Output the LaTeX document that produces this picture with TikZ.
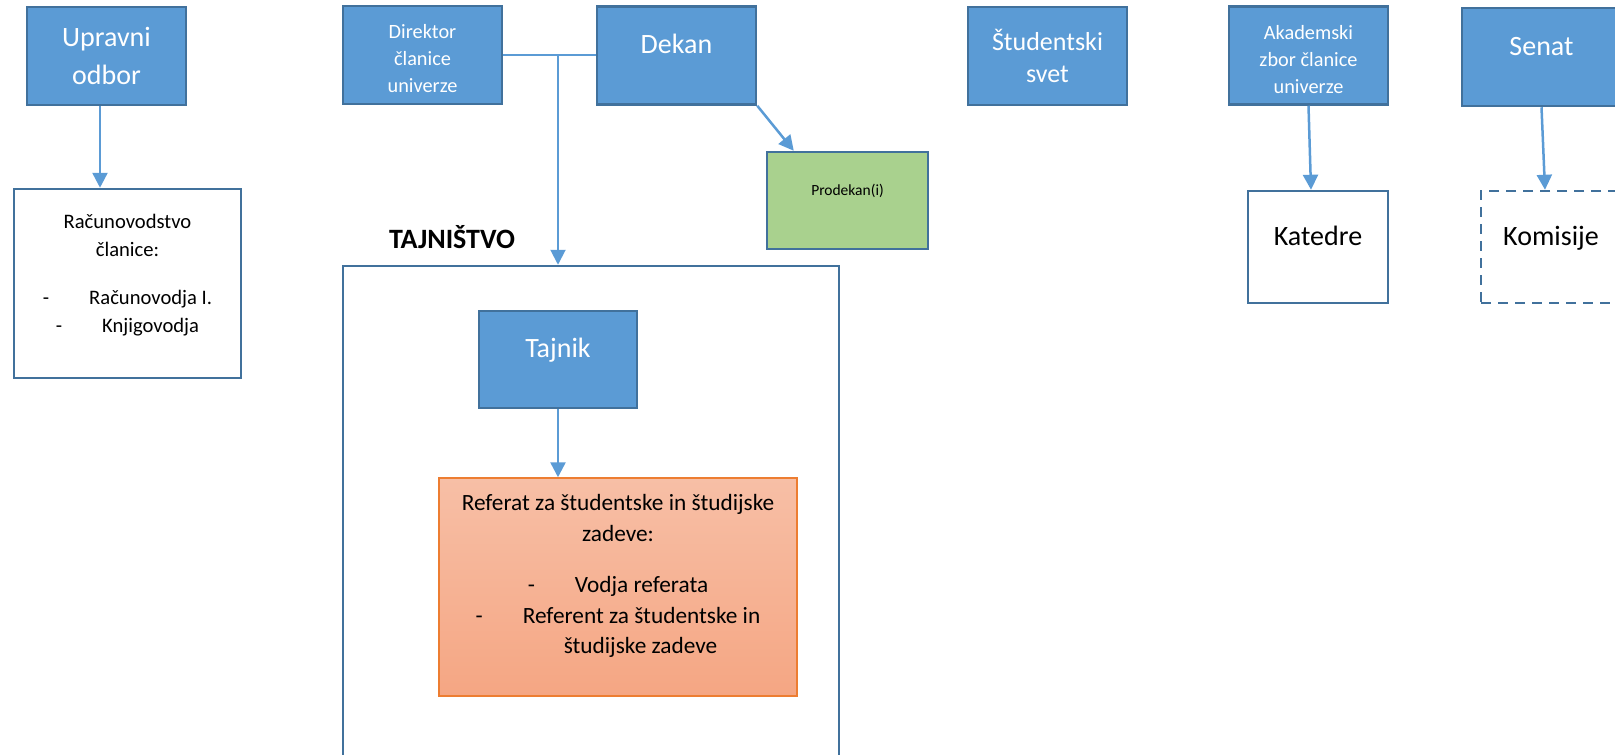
\documentclass[tikz,border=0pt]{standalone}
\usepackage{fontspec}
\setmainfont{Carlito}
\usepackage{tikz}
\usetikzlibrary{arrows.meta, positioning}
\definecolor{boxblue}{RGB}{91, 155, 213}
\definecolor{boxborder}{RGB}{65, 113, 156}
\definecolor{linkblue}{RGB}{91, 155, 213}
\definecolor{prodgreen}{RGB}{169, 209, 142}
\definecolor{reftop}{RGB}{247, 191, 166}
\definecolor{refbottom}{RGB}{245, 166, 131}
\definecolor{refborder}{RGB}{237, 125, 49}
\tikzstyle{unit} = [rectangle, minimum width=159pt, minimum height=98pt, align=center,
                    draw=boxborder, fill=boxblue, text=white, line width=2.5pt,
                    font=\fontsize{28}{38}\selectfont]
\tikzstyle{smalltext} = [align=center, text=white, font=\fontsize{20.3}{27}\selectfont]
\tikzstyle{oneline} = [text height=20pt, text depth=23.5pt]
\tikzstyle{plainbox} = [rectangle, draw=boxborder, fill=white, line width=2.5pt,
                        font=\fontsize{28}{38}\selectfont]
\tikzstyle{arrow} = [-{Triangle[length=15pt, width=15pt]}, line width=2.5pt, draw=linkblue]

\begin{document}
\begin{tikzpicture}[x=1pt, y=-1pt]
    \useasboundingbox (0,0) rectangle (1615,755);
    % top row
    \node[unit] (upravni) at (106.5,56) {Upravni\\odbor};
    \node[unit] (direktor) at (422.5,55) {};
    \node[smalltext] (direktortext) at (422.5,59) {Direktor\\članice\\univerze};
    \node[unit, oneline] (dekan) at (676.5,55.5) {Dekan};
    \node[unit, font=\fontsize{26}{32}\selectfont] (svet) at (1047.5,56) {Študentski\\svet};
    \node[unit] (zbor) at (1308.5,55.5) {};
    \node[smalltext] (zbortext) at (1308.5,59.5) {Akademski\\zbor članice\\univerze};
    \node[unit, oneline] (senat) at (1541.5,57) {Senat};
    % second row
    \node[plainbox, minimum width=227pt, minimum height=189pt] (racun) at (127.5,283.5) {};
    \node[font=\fontsize{20.6}{27.5}\selectfont, align=center] (racuntext) at (127.5,275)
        {Računovodstvo\\članice:\\[21pt]-\hspace{40pt}Računovodja I.\\-\hspace{40pt}Knjigovodja};
    \node[unit, fill=prodgreen, text=black, minimum width=161pt, minimum height=97pt,
          font=\fontsize{15.5}{19}\selectfont, text height=11pt, text depth=22pt]
        (prodekan) at (847.5,200.5) {Prodekan(i)};
    \node[plainbox, oneline, minimum width=140pt, minimum height=112pt] (katedre) at (1318,247) {Katedre};
    \node[plainbox, oneline, dash pattern=on 10pt off 7pt, minimum width=140pt, minimum height=112pt]
        (komisije) at (1551,247) {Komisije};
    % tajnistvo
    \node[font=\fontsize{28}{34}\selectfont\bfseries, anchor=base] (tajnistvolabel) at (452,248) {TAJNIŠTVO};
    \node[plainbox, minimum width=496pt, minimum height=504pt] (tajnistvo) at (591,518) {};
    \node[unit, oneline, minimum width=158pt, minimum height=97pt] (tajnik) at (558,359.5) {Tajnik};
    \node[rectangle, draw=refborder, line width=1.5pt, top color=reftop, bottom color=refbottom,
          minimum width=358pt, minimum height=218pt] (referat) at (618,587) {};
    \node[font=\fontsize{23.3}{30.5}\selectfont, align=center] (referattext) at (618,576)
        {Referat za študentske in študijske\\zadeve:\\[21pt]-\hspace{40pt}Vodja referata\\
         -\hspace{40pt}Referent za študentske in\\\hspace*{45pt}študijske zadeve};
    % connectors
    \draw[arrow] ([xshift=-6.5pt]upravni.south) -- ([xshift=-27.5pt]racun.north);
    \draw[linkblue, line width=1.5pt] (direktor.east) -- (direktor.east -| dekan.west);
    \draw[arrow, line width=2pt] (direktor.east -| tajnik.north) -- (tajnistvo.north -| tajnik.north);
    \draw[arrow] (dekan.south east) -- ([xshift=28pt]prodekan.north west);
    \draw[arrow] (tajnik.south) -- (tajnik.south |- referat.north);
    \draw[arrow] (zbor.south) -- ([xshift=-7pt]katedre.north);
    \draw[arrow] (senat.south) -- ([xshift=-6pt]komisije.north);
\end{tikzpicture}
\end{document}
